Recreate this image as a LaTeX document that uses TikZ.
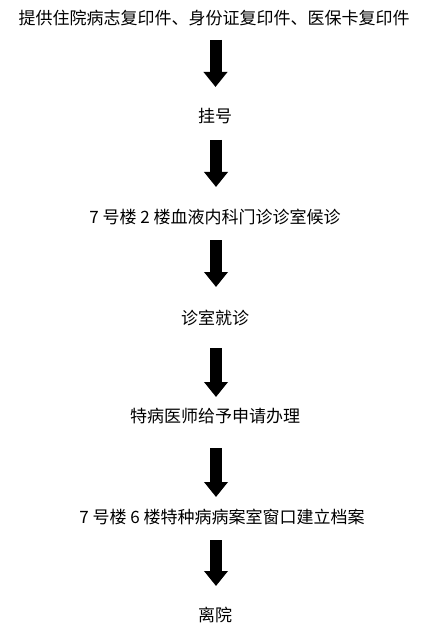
\documentclass[tikz,border=0pt]{standalone}
\usepackage{fontspec}
\setmainfont{Noto Sans CJK SC}
\usetikzlibrary{arrows.meta,calc}
\begin{document}
\begin{tikzpicture}[x=1pt,y=-1pt,
  step label/.style={inner sep=0pt, font=\fontsize{17pt}{20pt}\selectfont, text=black},
  flow/.style={line width=12pt, -{Triangle[width=23pt,length=15pt]}, black}]
\useasboundingbox (0,0) rectangle (437,639);
\node[step label] (t1) at (214,18) {提供住院病志复印件、身份证复印件、医保卡复印件};
\node[step label] (t2) at (215,116) {挂号};
\node[step label] (t3) at (215,217) {7 号楼 2 楼血液内科门诊诊室候诊};
\node[step label] (t4) at (215,318) {诊室就诊};
\node[step label] (t5) at (215,416) {特病医师给予申请办理};
\node[step label] (t6) at (222,517) {7 号楼 6 楼特种病病案室窗口建立档案};
\node[step label] (t7) at (215,615) {离院};
\draw[flow] ($(t1.center)+(1.5,22)$) -- ($(t2.center)+(0.5,-29)$);
\draw[flow] ($(t2.center)+(1,24)$) -- ($(t3.center)+(1,-30)$);
\draw[flow] ($(t3.center)+(1,23)$) -- ($(t4.center)+(1,-31)$);
\draw[flow] ($(t4.center)+(1,30)$) -- ($(t5.center)+(1,-19)$);
\draw[flow] ($(t5.center)+(1,32)$) -- ($(t6.center)+(-6,-20)$);
\draw[flow] ($(t6.center)+(-6,23)$) -- ($(t7.center)+(1,-29)$);
\end{tikzpicture}
\end{document}
